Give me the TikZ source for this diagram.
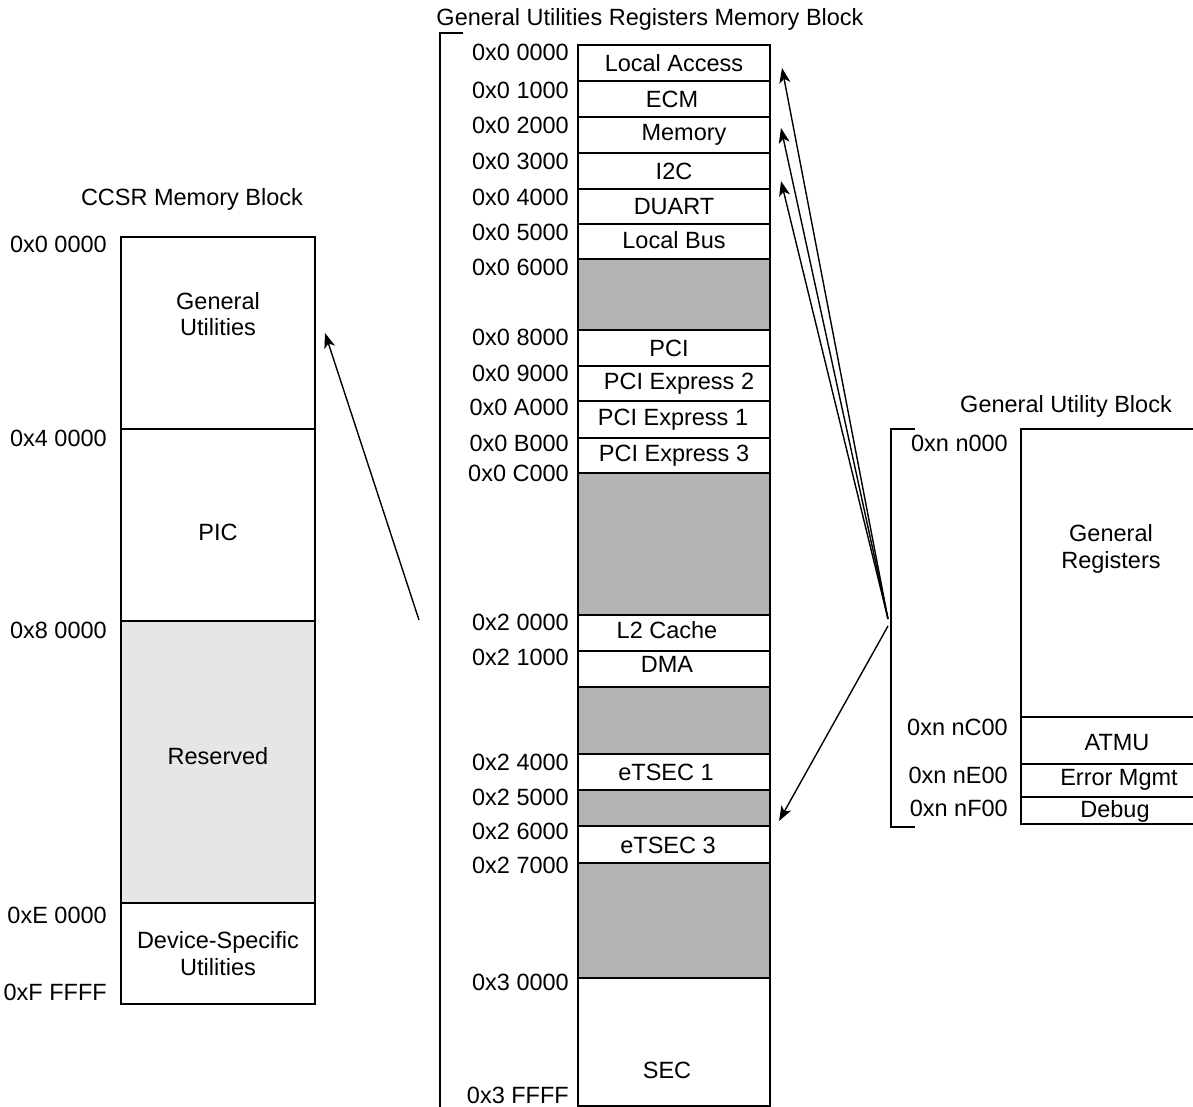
\documentclass[tikz,border=0pt]{standalone}
\usepackage{fontspec}
\setmainfont{Liberation Sans}
\usetikzlibrary{arrows.meta,positioning}
\definecolor{mapHole}{HTML}{B3B3B3}
\definecolor{mapReserved}{HTML}{E6E6E6}
\newcommand{\mapFont}{\fontsize{23.5}{26.5}\selectfont}
\tikzset{
  mapRow/.style={
    draw=black,
    line width=2pt,
    anchor=north west,
    inner sep=0pt
  },
  mapText/.style={inner sep=0pt, align=center, font=\mapFont},
  mapAddr/.style={anchor=east, inner sep=0pt, font=\mapFont},
  mapTitle/.style={inner sep=0pt, font=\mapFont},
  mapBracket/.style={line width=2pt},
  mapArrow/.style={-{Stealth[length=15pt,width=11pt,inset=4pt]}, line width=1.4pt}
}

\begin{document}
\begin{tikzpicture}[x=1pt,y=-1pt]
  \useasboundingbox (0,0) rectangle (1193,1106);

  % CCSR memory block
  \node[mapTitle] (ccsrTitle) at (192,199) {CCSR Memory Block};
  \foreach \t/\b/\nm/\fil/\txt/\dy in {236/428/ccsrGu/white/{General\\Utilities}/19,
      428/620/ccsrPic/white/PIC/-7,
      620/902/ccsrRes/mapReserved/Reserved/6,
      902/1003/ccsrDev/white/{Device-Specific\\Utilities}/0} {
    \node[mapRow, fill=\fil, minimum width=194pt, minimum height={\b-\t}] (\nm) at (120,\t) {};
    \node[mapText] (\nm-txt) at ([yshift=\dy]\nm.center) {\txt};
  }
  \foreach \y/\a in {244/0x0 0000, 438/0x4 0000, 630/0x8 0000, 915/0xE 0000, 992/0xF FFFF}
    \node[mapAddr] (ccsrA-\y) at (107,\y) {\a};

  % general utilities registers memory block
  \node[mapTitle] (gurTitle) at (650,19) {General Utilities Registers Memory Block};
  \draw[mapBracket] (463,33) -- (440,33) -- (440,1112);
  \foreach \t/\b/\nm/\fil/\txt/\dx/\dy in {44/80/la/white/Local Access/0/0,
      80/116/ecm/white/ECM/-2/0,
      116/152/mem/white/Memory/10/0,
      152/188/iic/white/I2C/0/0,
      188/223/duart/white/DUART/0/0,
      223/258/lbus/white/Local Bus/0/1,
      258/329/holeA/mapHole//0/0,
      329/365/pci/white/PCI/-5/0,
      365/400/pcieB/white/PCI Express 2/5/0,
      400/437/pcieA/white/PCI Express 1/-1/0,
      437/472/pcieC/white/PCI Express 3/0/0,
      472/614/holeB/mapHole//0/0,
      614/650/ltwo/white/L2 Cache/-7/3,
      650/686/dma/white/DMA/-7/5,
      686/753/holeC/mapHole//0/0,
      753/789/tsecA/white/eTSEC 1/-8/0,
      789/825/holeD/mapHole//0/0,
      825/862/tsecC/white/eTSEC 3/-6/-1,
      862/977/holeE/mapHole//0/0,
      977/1105/sec/white/SEC/-7/-28} {
    \node[mapRow, fill=\fil, minimum width=192pt, minimum height={\b-\t}] (\nm) at (577,\t) {};
    \node[mapText] (\nm-txt) at ([xshift=\dx, yshift=\dy]\nm.center) {\txt};
  }
  \foreach \y/\a in {52/0x0 0000, 90/0x0 1000, 125/0x0 2000, 161/0x0 3000,
      197/0x0 4000, 232/0x0 5000, 267/0x0 6000, 337/0x0 8000, 373/0x0 9000,
      407/0x0 A000, 443/0x0 B000, 473/0x0 C000, 622/0x2 0000, 657/0x2 1000,
      762/0x2 4000, 797/0x2 5000, 831/0x2 6000, 865/0x2 7000, 982/0x3 0000,
      1095/0x3 FFFF}
    \node[mapAddr] (gurA-\y) at (569,\y) {\a};

  % general utility block
  \node[mapTitle] (gubTitle) at (1066,406) {General Utility Block};
  \draw[mapBracket] (915,429) -- (891,429) -- (891,827) -- (915,827);
  \foreach \t/\b/\nm/\txt/\dx/\dy in {428/716/gReg/{General\\Registers}/-1/24,
      716/763/atmu/ATMU/5/-2,
      763/796/errMgmt/Error Mgmt/7/1,
      796/823/dbg/Debug/3/-1} {
    \node[mapRow, fill=white, minimum width=182pt, minimum height={\b-\t}] (\nm) at (1020,\t) {};
    \node[mapText] (\nm-txt) at ([xshift=\dx, yshift=\dy]\nm.center) {\txt};
  }
  \foreach \y/\a in {443/0xn n000, 727/0xn nC00, 775/0xn nE00, 808/0xn nF00}
    \node[mapAddr] (gubA-\y) at (1008,\y) {\a};

  % arrows between the blocks
  \coordinate (gurTail) at (419,620);
  \coordinate (ccsrTip) at (325,333);
  \draw[mapArrow] (gurTail) -- (ccsrTip);
  \coordinate (gubHubUp) at (888,619);
  \coordinate (gubHubDown) at (888,626);
  \coordinate (laTip) at (782,68);
  \coordinate (memTip) at (781,128);
  \coordinate (iicTip) at (781,181);
  \coordinate (tsecTip) at (779,821);
  \foreach \tip in {laTip, memTip, iicTip}
    \draw[mapArrow] (gubHubUp) -- (\tip);
  \draw[mapArrow] (gubHubDown) -- (tsecTip);
\end{tikzpicture}
\end{document}
